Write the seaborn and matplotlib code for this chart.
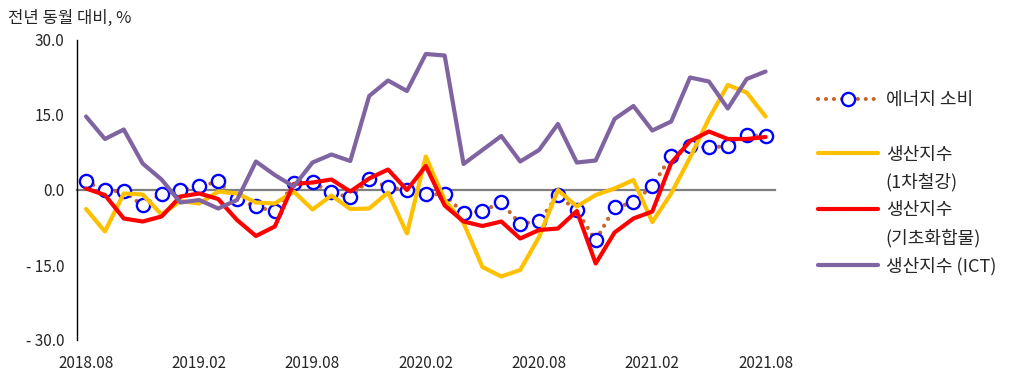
import numpy as np
import pandas as pd
import matplotlib
matplotlib.use("Agg")
import matplotlib.pyplot as plt
from matplotlib.lines import Line2D
import seaborn as sns

months = ["2018.08", "2018.09", "2018.10", "2018.11", "2018.12", "2019.01", "2019.02", "2019.03",
          "2019.04", "2019.05", "2019.06", "2019.07", "2019.08", "2019.09", "2019.10", "2019.11",
          "2019.12", "2020.01", "2020.02", "2020.03", "2020.04", "2020.05", "2020.06", "2020.07",
          "2020.08", "2020.09", "2020.10", "2020.11", "2020.12", "2021.01", "2021.02", "2021.03",
          "2021.04", "2021.05", "2021.06", "2021.07", "2021.08"]

energy = [1.7, -0.1, -0.3, -3.1, -0.8, -0.1, 0.7, 1.7, -1.8, -3.3, -4.3, 1.3, 1.5, -0.5, -1.5, 2.1,
          0.6, -0.1, -0.8, -0.9, -4.7, -4.2, -2.5, -6.8, -6.2, -1.1, -4.1, -10.1, -3.5, -2.5, 0.8, 6.8,
          8.7, 8.5, 8.8, 10.9, 10.8]
steel = [-3.8, -8.3, -0.7, -0.9, -4.9, -2.2, -2.7, -0.3, -0.7, -2.5, -2.7, -0.3, -3.9, -1.1, -3.8, -3.7,
         -0.5, -8.7, 6.7, -2.0, -6.6, -15.4, -17.3, -16.0, -9.4, 0.0, -3.3, -1.0, 0.3, 2.0, -6.4, -0.7,
         6.5, 14.3, 21.0, 19.5, 14.7]
chem = [0.3, -1.0, -5.7, -6.3, -5.3, -1.3, -0.7, -1.8, -6.0, -9.2, -7.3, 1.2, 1.5, 2.1, -0.3, 2.3,
        4.1, 0.0, 4.8, -3.1, -6.3, -7.2, -6.3, -9.7, -8.0, -7.7, -4.2, -14.7, -8.5, -5.7, -4.3, 5.4,
        9.8, 11.7, 10.2, 10.2, 10.6]
ict = [14.7, 10.2, 12.1, 5.3, 2.1, -2.5, -2.0, -3.7, -2.0, 5.7, 3.0, 0.7, 5.5, 7.1, 5.8, 18.8,
       21.9, 19.8, 27.2, 26.9, 5.2, 8.0, 10.8, 5.7, 8.0, 13.2, 5.5, 5.9, 14.2, 16.8, 11.9, 13.7,
       22.5, 21.7, 16.3, 22.2, 23.7]

label_energy = "에너지 소비"
label_steel = ["생산지수", "(1차철강)"]
label_chem = ["생산지수", "(기초화합물)"]
label_ict = "생산지수 (ICT)"
ylabel_text = "전년 동월 대비, %"
yticks = [30, 15, 0, -15, -30]
ytick_labels = ["30.0", "15.0", "0.0", "- 15.0", "- 30.0"]
xtick_months = ["2018.08", "2019.02", "2019.08", "2020.02", "2020.08", "2021.02", "2021.08"]

c_energy_line = "#C4692E"
c_energy_mark = "#0000FF"
c_steel = "#FFC000"
c_chem = "#FF0000"
c_ict = "#8064A2"

df = pd.DataFrame({"month": months, "energy": energy, "steel": steel, "chem": chem, "ict": ict})
df["x"] = np.arange(len(df))

sns.set_style("white")
plt.rcParams["font.family"] = ["Noto Sans CJK KR", "DejaVu Sans"]

fig = plt.figure(figsize=(10.21, 3.75), dpi=100)
ax = fig.add_axes([76.6 / 1021, 35 / 375, (775 - 76.6) / 1021, 300 / 375])

sns.lineplot(data=df, x="x", y="energy", ax=ax, color=c_energy_line, lw=3,
             linestyle=(0, (0.01, 1.9)), dash_capstyle="round", marker="o", markersize=9.5,
             markerfacecolor="white", markeredgecolor=c_energy_mark, markeredgewidth=1.7, zorder=2)
sns.lineplot(data=df, x="x", y="steel", ax=ax, color=c_steel, lw=3, zorder=3)
sns.lineplot(data=df, x="x", y="chem", ax=ax, color=c_chem, lw=3, zorder=4)
sns.lineplot(data=df, x="x", y="ict", ax=ax, color=c_ict, lw=3, zorder=5)

ax.set_xlim(-0.5, len(df) - 0.5)
ax.set_ylim(-30, 30)
ax.set_xlabel("")
ax.set_ylabel("")

# zero-line axis with boundary ticks
for s in ["top", "right"]:
    ax.spines[s].set_visible(False)
ax.spines["bottom"].set_position(("data", 0))
ax.spines["bottom"].set_color("#7F7F7F")
ax.spines["bottom"].set_linewidth(1.6)
ax.spines["bottom"].set_zorder(1)
ax.spines["left"].set_color("black")
ax.spines["left"].set_linewidth(1.0)

pos = [months.index(m) for m in xtick_months]
ax.set_xticks(pos)
ax.set_xticks(np.arange(5.5, len(df) - 0.5, 6), minor=True)
ax.tick_params(axis="x", which="major", length=0, labelbottom=False)
ax.tick_params(axis="x", which="minor", length=4, width=1, color="#333333", direction="out")

ax.set_yticks(yticks)
ax.set_yticklabels(ytick_labels)
ax.tick_params(axis="y", length=5, width=1, color="black", direction="out", pad=4, labelsize=11)

sec = ax.secondary_xaxis(0.0)
sec.set_xticks(pos)
sec.set_xticklabels(xtick_months)
sec.tick_params(length=0, pad=11, labelsize=11)
sec.spines["bottom"].set_visible(False)

fig.text(8 / 1021, 1 - 18 / 375, ylabel_text, fontsize=12, va="center", ha="left")

blank = Line2D([], [], linestyle="none", marker=None)
handles = [
    Line2D([], [], color=c_energy_line, lw=3, linestyle=(0, (0.01, 1.9)), dash_capstyle="round",
           marker="o", markersize=9.5, markerfacecolor="white", markeredgecolor=c_energy_mark,
           markeredgewidth=1.7),
    blank,
    Line2D([], [], color=c_steel, lw=3),
    blank,
    Line2D([], [], color=c_chem, lw=3),
    blank,
    Line2D([], [], color=c_ict, lw=3),
]
labels = [label_energy, " ", label_steel[0], label_steel[1], label_chem[0], label_chem[1], label_ict]
fig.legend(handles, labels, loc="upper left", bbox_to_anchor=(818 / 1021, 1 - 91 / 375),
           frameon=False, fontsize=13, handlelength=3.3, handletextpad=0.45,
           labelspacing=0.52, borderpad=0, borderaxespad=0, numpoints=1)

fig.savefig("out.png", dpi=100)
